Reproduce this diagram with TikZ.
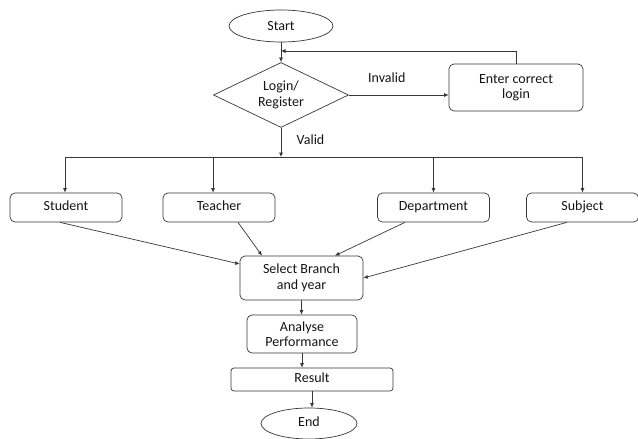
\documentclass[tikz,border=0pt]{standalone}
\usepackage{fontspec}
\setmainfont{Carlito}
\usetikzlibrary{arrows.meta,positioning,shapes.geometric}
\definecolor{edge}{RGB}{55,55,55}
\definecolor{ink}{RGB}{20,20,20}

\begin{document}
\begin{tikzpicture}[x=1pt,y=-1pt,font=\fontsize{14}{15.5}\selectfont,text=ink,line width=0.7pt,
    term/.style={draw=edge,ellipse,minimum width=104pt,minimum height=32pt,inner sep=1pt},
    dec/.style={draw=edge,diamond,aspect=2.1,minimum width=135pt,minimum height=65pt,inner sep=0pt,align=center},
    pbox/.style={draw=edge,rounded corners=5pt,align=center,inner sep=1pt},
    one/.style={text height=1.45ex,text depth=0.4ex},
    arr/.style={draw=edge,-{Latex[length=4.5pt,width=4pt]}}]
    \useasboundingbox (0,0) rectangle (638,439);
    \node[term] (start) at (281,26) {Start};
    \node[dec] (login) at (281,95) {Login/\\Register};
    \node[pbox,minimum width=134pt,minimum height=47pt] (enter) at (516,87.5) {Enter correct\\login};
    \coordinate (back) at (281,51);
    \coordinate (bus) at (281,157);
    \foreach \n/\x/\d/\t in {stud/66/-1/Student,teach/219/-6/Teacher,dept/433.5/0/Department,subj/582.5/0/Subject}
    {
      \node[pbox,one,minimum width=112pt,minimum height=29pt] (\n) at (\x,207.5) {\t};
      \draw[arr] ([xshift=\d pt]\n.north |- bus) -- ([xshift=\d pt]\n.north);
    }
    \node[pbox,minimum width=123pt,minimum height=44pt] (branch) at (301.5,278) {Select Branch\\and year};
    \node[pbox,minimum width=110pt,minimum height=38pt] (analyse) at (302,334) {Analyse\\Performance};
    \node[pbox,one,minimum width=162pt,minimum height=23pt,rounded corners=3pt] (result) at (312,379.5) {Result};
    \node[term,one,minimum width=96pt,minimum height=31pt] (end) at (309,423.5) {End};

    \draw[arr] (start) -- (login);
    \draw[arr] (enter.north) |- (back);
    \draw[arr] (login.east) -- node[above=9pt,pos=0.38] {Invalid} (enter.west |- login.east);
    \draw[arr] (login.south) -- node[right=12pt,pos=0.4] {Valid} (bus);
    \draw[edge] ([xshift=-1pt]stud.north |- bus) -- (subj.north |- bus);
    \draw[arr] ([xshift=-6pt]stud.south) -- ([yshift=14pt]branch.west);
    \draw[arr] ([xshift=19pt]teach.south) -- ([xshift=-39.5pt]branch.north);
    \draw[arr] ([xshift=-28.5pt]dept.south) -- ([xshift=33.5pt]branch.north);
    \draw[arr] ([xshift=-15.5pt]subj.south) -- (branch.east);
    \draw[arr] (branch.south) -- (analyse.north -| branch.south);
    \draw[arr] (analyse.south) -- (result.north -| analyse.south);
    \draw[arr] (result.south) -- (end.north -| result.south);
  \end{tikzpicture}
\end{document}
